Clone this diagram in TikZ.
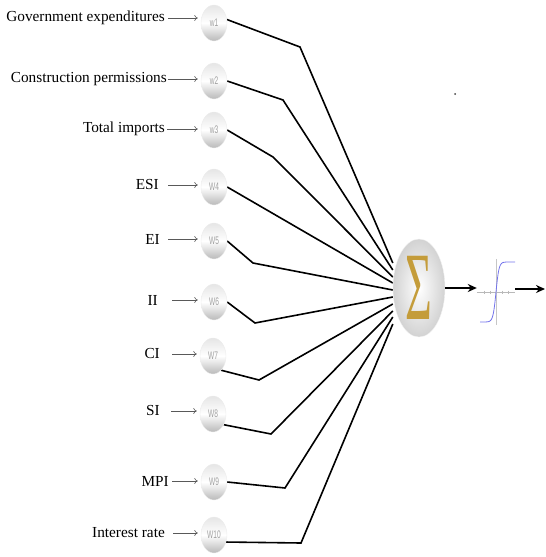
\documentclass[tikz,border=0pt]{standalone}
\usepackage{fontspec}
\setmainfont{Liberation Serif}
\newfontfamily\wfont{Liberation Sans}
\usetikzlibrary{arrows.meta,shapes.geometric,backgrounds,calc}
\definecolor{sigold}{RGB}{196,156,58}
\definecolor{sigblue}{RGB}{115,115,235}
\begin{document}
\begin{tikzpicture}[x=1pt,y=-1pt,
 inlabel/.style={anchor=east,inner sep=0pt,font=\fontsize{15.3}{15.3}\selectfont},
 wnode/.style={ellipse,minimum width=26pt,minimum height=36pt,inner sep=0pt,
   top color=gray!20,bottom color=gray!55,middle color=white,draw=gray!15,
   font=\wfont\fontsize{11}{11}\selectfont,text=gray!75},
 inarrow/.style={draw=gray!70!black,line width=0.6pt,-{To[length=3.5pt,width=6pt]},shorten >=3pt},
 wline/.style={black,line width=1.6pt,line join=miter},
 outarrow/.style={line width=2.4pt,-{Stealth[length=9pt,width=8pt]}}
]
\useasboundingbox (0,0) rectangle (546,557);

% input labels
\node[inlabel] (l1) at (165,18) {Government expenditures};
\node[inlabel] (l2) at (167,79) {Construction permissions};
\node[inlabel] (l3) at (165,129) {Total imports};
\node[inlabel] (l4) at (159,185) {ESI};
\node[inlabel] (l5) at (160,239) {EI};
\node[inlabel] (l6) at (158,300) {II};
\node[inlabel] (l7) at (160,354) {CI};
\node[inlabel] (l8) at (160,411) {SI};
\node[inlabel] (l9) at (169,481) {MPI};
\node[inlabel] (l10) at (165,533) {Interest rate};

% weight nodes
\node[wnode] (w1) at (214,23) {\scalebox{0.6}[1]{w1}};
\node[wnode] (w2) at (214,81) {\scalebox{0.6}[1]{w2}};
\node[wnode] (w3) at (214,130) {\scalebox{0.6}[1]{w3}};
\node[wnode] (w4) at (214,187) {\scalebox{0.6}[1]{W4}};
\node[wnode] (w5) at (214,241) {\scalebox{0.6}[1]{W5}};
\node[wnode] (w6) at (214,302) {\scalebox{0.6}[1]{W6}};
\node[wnode] (w7) at (213,356) {\scalebox{0.6}[1]{W7}};
\node[wnode] (w8) at (213,414) {\scalebox{0.6}[1]{W8}};
\node[wnode] (w9) at (214,482) {\scalebox{0.6}[1]{W9}};
\node[wnode] (w10) at (214,535) {\scalebox{0.6}[1]{W10}};

% input arrows
\draw[inarrow,shorten <=3pt] (l1.east) -- (l1.east -| w1.west);
\draw[inarrow,shorten <=1pt] (l2.east) -- (l2.east -| w2.west);
\draw[inarrow,shorten <=2pt] (l3.east) -- (l3.east -| w3.west);
\draw[inarrow,shorten <=9pt] (l4.east) -- (l4.east -| w4.west);
\draw[inarrow,shorten <=8pt] (l5.east) -- (l5.east -| w5.west);
\draw[inarrow,shorten <=14pt] (l6.east) -- (l6.east -| w6.west);
\draw[inarrow,shorten <=12pt] (l7.east) -- (l7.east -| w7.west);
\draw[inarrow,shorten <=11pt] (l8.east) -- (l8.east -| w8.west);
\draw[inarrow,shorten <=3pt] (l9.east) -- (l9.east -| w9.west);
\draw[inarrow,shorten <=8pt] (l10.east) -- (l10.east -| w10.west);

% summation node
\node[ellipse,minimum width=52pt,minimum height=98pt,inner sep=0pt,
  shading=radial,inner color=white,outer color=gray!35,draw=gray!10] (sig) at (419,288)
  {\scalebox{0.5}[1.05]{\textcolor{sigold}{\fontsize{92}{92}\selectfont Σ}}};

% weighted connections
\begin{pgfonlayer}{background}
\draw[wline] (w1.15) -- (300,47) -- ([yshift=25pt]sig.west);
\draw[wline] (w2.east) -- (283,100) -- ([yshift=18pt]sig.west);
\draw[wline] (w3.east) -- (273,157) -- ([yshift=11pt]sig.west);
\draw[wline] (w4.east) -- ([yshift=5pt]sig.west);
\draw[wline] (w5.east) -- (253,263) -- ([yshift=-2pt]sig.west);
\draw[wline] (w6.east) -- (255,323) -- ([yshift=-9pt]sig.west);
\draw[wline] (w7.-60) -- (259,380) -- ([yshift=-16pt]sig.west);
\draw[wline] (w8.-45) -- (271,434) -- ([yshift=-23pt]sig.west);
\draw[wline] (w9.east) -- (285,488) -- ([yshift=-29pt]sig.west);
\draw[wline] (w10.-30) -- (301,543) -- ([yshift=-36pt]sig.west);
\end{pgfonlayer}

% activation function
\node[minimum width=38pt,minimum height=66pt,inner sep=0pt] (act) at (496,292) {};
\draw[gray!55,line width=0.4pt] (act.west) -- (act.east);
\draw[gray!45,line width=0.4pt] (act.north) -- (act.south);
\foreach \t in {-12,-6,6,12} \draw[gray!55,line width=0.4pt] ($(act.center)+(\t,-1.5)$) -- ($(act.center)+(\t,1.5)$);
\draw[sigblue,line width=0.8pt] plot[domain=-16:19,samples=80,smooth] ({496+\x},{292-30*tanh(\x/3)});

% arrows
\coordinate (out) at (545,289);
\draw[outarrow] (sig.east) -- (sig.east -| act.west);
\draw[outarrow] (act.east |- out) -- (out);

% stray dot
\fill[gray!50!black] (455,94) circle (1pt);
\end{tikzpicture}
\end{document}
